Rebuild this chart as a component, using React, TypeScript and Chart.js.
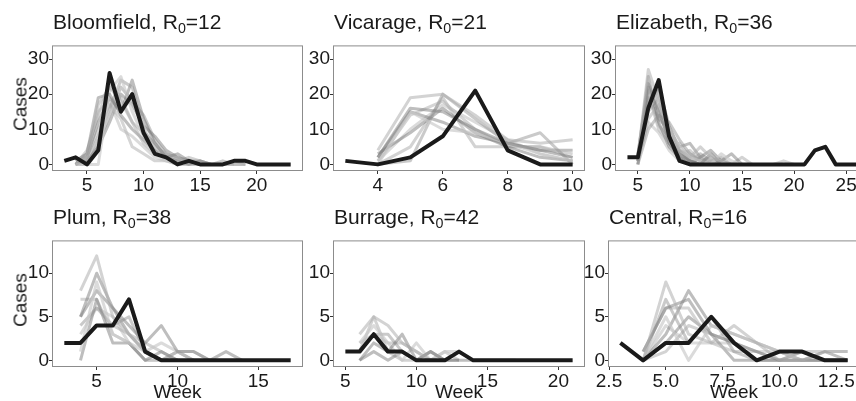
import React, { useEffect, useRef } from "react";
import { Chart, registerables } from "chart.js";

Chart.register(...registerables);

// ---------------- DATA ----------------
const panelNames = ["Bloomfield", "Vicarage", "Elizabeth", "Plum", "Burrage", "Central"];
const panelR0 = [12, 21, 36, 38, 42, 16];

// Bloomfield
const bloomfieldWeeks = [3, 4, 5, 6, 7, 8, 9, 10, 11, 12, 13, 14, 15, 16, 17, 18, 19, 20, 21, 22, 23];
const bloomfieldCases = [1, 2, 0, 4, 26, 15, 20, 9, 3, 2, 0, 1, 0, 0, 0, 1, 1, 0, 0, 0, 0];
const bloomfieldSimStart = 4;
const bloomfieldSims = [
  [0, 2, 17, 22, 18, 12, 6, 3, 2, 1, 1, 0, 0, 0, 0, 0],
  [1, 3, 19, 20, 14, 10, 7, 4, 2, 1, 0, 1, 0, 0],
  [0, 0, 0, 21, 25, 15, 8, 4, 1, 0, 0],
  [0, 1, 8, 16, 24, 22, 10, 5, 3, 2, 1, 0, 0, 1, 0],
  [0, 2, 12, 19, 15, 24, 13, 6, 2, 3, 1, 0],
  [1, 2, 10, 17, 13, 5, 3, 1, 1, 0, 0, 0, 0],
  [0, 4, 14, 23, 19, 12, 9, 6, 2, 1, 2, 1, 0, 0, 0, 0],
  [0, 1, 5, 12, 20, 17, 11, 8, 4, 2, 1, 0],
  [0, 3, 15, 18, 10, 8, 5, 2, 1, 1, 0, 0],
  [0, 0, 6, 14, 22, 18, 14, 7, 3, 1, 1, 1, 0, 0, 1, 0],
];

// Vicarage
const vicarageWeeks = [3, 4, 5, 6, 7, 8, 9, 10];
const vicarageCases = [1, 0, 2, 8, 21, 4, 0, 0];
const vicarageSimStart = 4;
const vicarageSims = [
  [4, 19, 20, 14, 7, 6, 7],
  [2, 16, 15, 10, 6, 4, 2],
  [0, 15, 10, 9, 6, 3, 1],
  [0, 1, 20, 13, 6, 9, 0],
  [3, 9, 16, 9, 5, 2, 1],
  [1, 14, 18, 10, 5, 5, 3],
  [0, 5, 19, 5, 5, 5, 2],
  [2, 15, 12, 8, 6, 4, 4],
  [1, 10, 17, 12, 7, 3, 1],
];

// Elizabeth
const elizabethWeeks = [4, 5, 6, 7, 8, 9, 10, 11, 12, 13, 14, 15, 16, 17, 18, 19, 20, 21, 22, 23, 24, 25, 26];
const elizabethCases = [2, 2, 16, 24, 8, 1, 0, 0, 0, 0, 0, 0, 0, 0, 0, 0, 0, 0, 4, 5, 0, 0, 0];
const elizabethSimStart = 5;
const elizabethSims = [
  [2, 27, 18, 9, 4, 2, 5, 2, 1, 0, 0],
  [1, 22, 15, 7, 3, 1, 0, 3, 0, 0],
  [3, 16, 20, 10, 5, 2, 1, 0, 3, 1, 0],
  [0, 10, 14, 12, 7, 3, 1, 0, 0],
  [2, 25, 12, 5, 2, 0, 2, 4, 1, 3, 0, 0],
  [1, 13, 17, 8, 3, 4, 1, 0, 0, 0, 0, 0, 0, 0, 1, 0],
  [2, 20, 10, 6, 6, 2, 1, 1, 0, 0],
  [0, 18, 22, 11, 4, 1, 0],
  [1, 12, 9, 4, 1, 0, 0],
  [3, 23, 16, 6, 2, 1, 3, 1, 2, 0, 0],
  [1, 19, 13, 10, 5, 6, 2, 0, 1, 0],
  [2, 15, 19, 7, 2, 0, 0, 1, 0],
  [0, 21, 11, 8, 4, 3, 1, 2, 0, 0, 2, 0],
  [1, 17, 21, 6, 3, 1, 0, 0],
];

// Plum
const plumWeeks = [3, 4, 5, 6, 7, 8, 9, 10, 11, 12, 13, 14, 15, 16, 17];
const plumCases = [2, 2, 4, 4, 7, 1, 0, 0, 0, 0, 0, 0, 0, 0, 0];
const plumSimStart = 4;
const plumSims = [
  [8, 12, 5, 3, 1, 0, 0],
  [5, 10, 6, 4, 2, 4, 1, 1, 0, 1, 0],
  [1, 9, 3, 2, 1, 2, 1, 1, 0],
  [4, 6, 4, 5, 1, 0, 0],
  [0, 7, 2, 2, 0, 1, 0],
  [7, 7, 3, 2, 0, 0, 1, 0],
  [2, 4, 4, 3, 2, 1, 0],
  [5, 8, 6, 3, 1, 0, 1, 0],
  [3, 6, 5, 2, 0, 0, 0],
];

// Burrage
const burrageWeeks = [5, 6, 7, 8, 9, 10, 11, 12, 13, 14, 15, 16, 17, 18, 19, 20, 21];
const burrageCases = [1, 1, 3, 1, 1, 0, 0, 0, 1, 0, 0, 0, 0, 0, 0, 0, 0];
const burrageSimStart = 6;
const burrageSims = [
  [3, 5, 4, 2, 1, 0, 0],
  [0, 2, 1, 3, 0, 1, 0, 0],
  [2, 4, 2, 0, 2, 0, 1, 1, 0],
  [1, 3, 3, 1, 0, 0],
  [0, 1, 0, 1, 0, 1, 0, 0, 0, 0, 0, 0],
  [2, 3, 2, 2, 1, 0, 1, 0],
  [1, 5, 1, 0, 0],
];

// Central
const centralWeeks = [3, 4, 5, 6, 7, 8, 9, 10, 11, 12, 13];
const centralCases = [2, 0, 2, 2, 5, 2, 0, 1, 1, 0, 0];
const centralSimStart = 4;
const centralSims = [
  [0, 9, 3, 2, 4, 2, 0, 0, 1, 1],
  [1, 6, 7, 3, 2, 1, 0, 0, 0, 0],
  [0, 5, 0, 4, 3, 2, 1, 0, 0, 0],
  [0, 7, 2, 5, 1, 0, 0, 1, 0, 0],
  [0, 3, 8, 4, 3, 2, 1, 0, 1, 0],
  [1, 6, 6, 2, 1, 1, 0, 0],
  [0, 1, 4, 3, 2, 0, 0, 1, 1, 1],
  [0, 2, 5, 3, 0, 0, 0, 0, 0, 0],
  [0, 4, 2, 2, 2, 1, 1, 0, 0, 0],
];

// Axis tick labels
const row1YTicks = [0, 10, 20, 30];
const row2YTicks = [0, 5, 10];
const bloomfieldXTicks = [5, 10, 15, 20];
const vicarageXTicks = [4, 6, 8, 10];
const elizabethXTicks = [5, 10, 15, 20, 25];
const plumXTicks = [5, 10, 15];
const burrageXTicks = [5, 10, 15, 20];
const centralXTicks = [2.5, 5.0, 7.5, 10.0, 12.5];

// ---------------- STYLE / LAYOUT ----------------
const FONT = '"Liberation Sans", Arial, Helvetica, sans-serif';
const TEXT = "#1a1a1a";
const simGreys = [
  "rgba(175,175,175,0.55)",
  "rgba(125,125,125,0.5)",
  "rgba(200,200,200,0.65)",
  "rgba(150,150,150,0.5)",
  "rgba(110,110,110,0.45)",
  "rgba(185,185,185,0.6)",
];

const Y_W = 30;
const X_H = 30;
const PAD_T = 3;
const PAD_R = 3;

type PanelDef = {
  name: string;
  r0: number;
  weeks: number[];
  cases: number[];
  simStart: number;
  sims: number[][];
  xMin: number;
  xMax: number;
  xTicks: number[];
  decimals: number;
  yMin: number;
  yMax: number;
  yTicks: number[];
  left: number;
  top: number;
  w: number;
  h: number;
  showCases: boolean;
  showWeek: boolean;
};

const panels: PanelDef[] = [
  { name: panelNames[0], r0: panelR0[0], weeks: bloomfieldWeeks, cases: bloomfieldCases, simStart: bloomfieldSimStart, sims: bloomfieldSims,
    xMin: 2, xMax: 24, xTicks: bloomfieldXTicks, decimals: 0, yMin: -1.6, yMax: 33.6, yTicks: row1YTicks,
    left: 53, top: 38, w: 249, h: 132, showCases: true, showWeek: false },
  { name: panelNames[1], r0: panelR0[1], weeks: vicarageWeeks, cases: vicarageCases, simStart: vicarageSimStart, sims: vicarageSims,
    xMin: 2.65, xMax: 10.35, xTicks: vicarageXTicks, decimals: 0, yMin: -1.6, yMax: 33.6, yTicks: row1YTicks,
    left: 334, top: 38, w: 250, h: 132, showCases: false, showWeek: false },
  { name: panelNames[2], r0: panelR0[2], weeks: elizabethWeeks, cases: elizabethCases, simStart: elizabethSimStart, sims: elizabethSims,
    xMin: 2.9, xMax: 27.1, xTicks: elizabethXTicks, decimals: 0, yMin: -1.6, yMax: 33.6, yTicks: row1YTicks,
    left: 616, top: 38, w: 252, h: 132, showCases: false, showWeek: false },
  { name: panelNames[3], r0: panelR0[3], weeks: plumWeeks, cases: plumCases, simStart: plumSimStart, sims: plumSims,
    xMin: 2.3, xMax: 17.7, xTicks: plumXTicks, decimals: 0, yMin: -0.65, yMax: 13.65, yTicks: row2YTicks,
    left: 53, top: 233, w: 249, h: 133, showCases: true, showWeek: true },
  { name: panelNames[4], r0: panelR0[4], weeks: burrageWeeks, cases: burrageCases, simStart: burrageSimStart, sims: burrageSims,
    xMin: 4.2, xMax: 21.8, xTicks: burrageXTicks, decimals: 0, yMin: -0.65, yMax: 13.65, yTicks: row2YTicks,
    left: 334, top: 233, w: 250, h: 133, showCases: false, showWeek: true },
  { name: panelNames[5], r0: panelR0[5], weeks: centralWeeks, cases: centralCases, simStart: centralSimStart, sims: centralSims,
    xMin: 2.5, xMax: 13.5, xTicks: centralXTicks, decimals: 1, yMin: -0.65, yMax: 13.65, yTicks: row2YTicks,
    left: 609, top: 233, w: 250, h: 133, showCases: false, showWeek: true },
];

const boxPlugin = {
  id: "panelBox",
  afterDatasetsDraw(chart: any) {
    const { ctx, chartArea: a } = chart;
    ctx.save();
    ctx.strokeStyle = "#8c8c8c";
    ctx.lineWidth = 1;
    ctx.strokeRect(a.left - 0.5, a.top - 0.5, a.right - a.left + 1, a.bottom - a.top + 1);
    ctx.restore();
  },
};

function PanelChart({ p }: { p: PanelDef }) {
  const ref = useRef<HTMLCanvasElement | null>(null);
  const cw = Y_W + p.w + PAD_R;
  const ch = PAD_T + p.h + X_H;

  useEffect(() => {
    if (!ref.current) return;
    const datasets: any[] = [
      {
        data: p.weeks.map((wk, i) => ({ x: wk, y: p.cases[i] })),
        borderColor: "#1a1a1a",
        borderWidth: 4,
        pointRadius: 0,
        tension: 0,
        borderJoinStyle: "round",
        borderCapStyle: "butt",
      },
      ...p.sims.map((s, k) => ({
        data: s.map((v, i) => ({ x: p.simStart + i, y: v })),
        borderColor: simGreys[k % simGreys.length],
        borderWidth: 3,
        pointRadius: 0,
        tension: 0,
        borderJoinStyle: "round",
        borderCapStyle: "butt",
      })),
    ];
    const tickFont = { family: FONT, size: 19 };
    const chart = new Chart(ref.current, {
      type: "line",
      data: { datasets },
      options: {
        animation: false,
        responsive: false,
        maintainAspectRatio: false,
        events: [],
        layout: { padding: { top: PAD_T, right: PAD_R, left: 0, bottom: 0 } },
        plugins: { legend: { display: false }, tooltip: { enabled: false }, title: { display: false } },
        scales: {
          x: {
            type: "linear",
            min: p.xMin,
            max: p.xMax,
            afterBuildTicks: (scale: any) => {
              scale.ticks = p.xTicks.map((v) => ({ value: v }));
            },
            afterFit: (scale: any) => {
              scale.height = X_H;
            },
            ticks: {
              font: tickFont,
              color: TEXT,
              padding: 0,
              autoSkip: false,
              maxRotation: 0,
              callback: (v: any) => Number(v).toFixed(p.decimals),
            },
            grid: { drawOnChartArea: false, drawTicks: true, tickLength: 4, color: "#333", lineWidth: 1 },
            border: { display: false },
          },
          y: {
            type: "linear",
            min: p.yMin,
            max: p.yMax,
            afterBuildTicks: (scale: any) => {
              scale.ticks = p.yTicks.map((v) => ({ value: v }));
            },
            afterFit: (scale: any) => {
              scale.width = Y_W;
            },
            ticks: {
              font: tickFont,
              color: TEXT,
              padding: 0,
              autoSkip: false,
              callback: (v: any) => String(v),
            },
            grid: { drawOnChartArea: false, drawTicks: true, tickLength: 4, color: "#333", lineWidth: 1 },
            border: { display: false },
          },
        },
      } as any,
      plugins: [boxPlugin],
    });
    return () => chart.destroy();
  }, [p]);

  return (
    <>
      <canvas
        ref={ref}
        width={cw}
        height={ch}
        style={{ position: "absolute", left: p.left - Y_W, top: p.top - PAD_T, width: cw, height: ch }}
      />
      <div
        style={{
          position: "absolute",
          left: p.left,
          top: p.top - 27,
          font: `21px ${FONT}`,
          lineHeight: 1,
          color: TEXT,
          whiteSpace: "nowrap",
        }}
      >
        {p.name}, R
        <sub style={{ fontSize: "0.68em", verticalAlign: "-0.3em", lineHeight: 0 }}>0</sub>={p.r0}
      </div>
      {p.showCases && (
        <div
          style={{
            position: "absolute",
            left: 19.5,
            top: p.top + p.h / 2,
            font: `19px ${FONT}`,
            lineHeight: 1,
            color: TEXT,
            whiteSpace: "nowrap",
            transform: "translate(-50%, -50%) rotate(-90deg)",
          }}
        >
          Cases
        </div>
      )}
      {p.showWeek && (
        <div
          style={{
            position: "absolute",
            left: p.left + p.w / 2,
            top: 382,
            font: `19px ${FONT}`,
            lineHeight: 1,
            color: TEXT,
            whiteSpace: "nowrap",
            transform: "translateX(-50%)",
          }}
        >
          Week
        </div>
      )}
    </>
  );
}

export default function App() {
  return (
    <div
      style={{
        position: "fixed",
        left: 0,
        top: 0,
        width: 856,
        height: 401,
        overflow: "hidden",
        background: "#ffffff",
      }}
    >
      {panels.map((p) => (
        <PanelChart key={p.name} p={p} />
      ))}
    </div>
  );
}
